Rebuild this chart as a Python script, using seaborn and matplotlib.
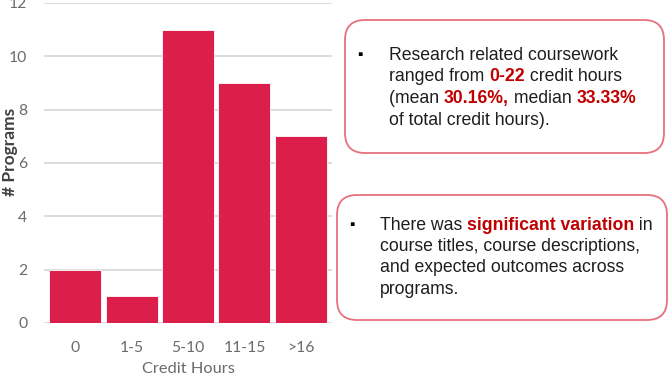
import pandas as pd
import seaborn as sns
import matplotlib.pyplot as plt
from matplotlib.patches import FancyBboxPatch

categories = ["0", "1-5", "5-10", "11-15", ">16"]
programs = [2, 1, 11, 9, 7]
y_ticks = [0, 2, 4, 6, 8, 10, 12]

BAR = "#DC1E4B"
HILITE = "#C00000"
EDGE = "#E8707E"

box1_lines = [
    [("Research related coursework", False)],
    [("ranged from ", False), ("0-22", True), (" credit hours", False)],
    [("(mean ", False), ("30.16%,", True), (" median ", False), ("33.33%", True)],
    [("of total credit hours).", False)],
]
box2_lines = [
    [("There was ", False), ("significant variation", True), (" in", False)],
    [("course titles, course descriptions,", False)],
    [("and expected outcomes across", False)],
    [("programs.", False)],
]

df = pd.DataFrame({"Credit Hours": categories, "Programs": programs})

sns.set_theme(style="white")
plt.rcParams["font.family"] = ["Lato", "DejaVu Sans"]

W, H = 669, 376
fig = plt.figure(figsize=(W / 100, H / 100), dpi=100)
ax = fig.add_axes([44 / W, (H - 323) / H, 288 / W, 320 / H])

sns.barplot(data=df, x="Credit Hours", y="Programs", color=BAR, width=0.92,
            saturation=1, edgecolor="white", linewidth=0.6, ax=ax, zorder=3)
ax.set_ylim(0, 12)
ax.set_xlim(-0.55, 4.55)
ax.set_yticks(y_ticks)
ax.yaxis.grid(True, color="#D9D9D9", linewidth=1.3, zorder=0)
ax.set_axisbelow(True)
for s in ax.spines.values():
    s.set_visible(False)
ax.tick_params(axis="both", length=0, labelsize=11.3, labelcolor="#6b6b6b")
ax.tick_params(axis="x", pad=13)
ax.tick_params(axis="y", pad=12)
ax.set_ylabel("# Programs", fontsize=12.5, fontweight="bold", color="#404040")
ax.yaxis.set_label_coords(-0.09, 0.535)
ax.set_xlabel("Credit Hours", fontsize=11.8, color="#6b6b6b", labelpad=5)

# text boxes, drawn in inch coordinates (1 px = 0.01 in)
tr = fig.dpi_scale_trans


def px(x, y):
    return x / 100, (H - y) / 100


def add_box(x0, y0, x1, y1):
    xa, ya = px(x0, y1)
    box = FancyBboxPatch((xa, ya), (x1 - x0) / 100, (y1 - y0) / 100,
                         boxstyle="round,pad=0,rounding_size=0.2",
                         transform=tr, facecolor="white", edgecolor=EDGE,
                         linewidth=1.3, clip_on=False)
    fig.add_artist(box)


def add_lines(lines, bx, tx, y_first, step):
    fs = 12.7
    fam = ["Liberation Sans", "DejaVu Sans"]
    fig.text(*px(bx, y_first), "\u25aa", transform=tr, fontsize=11,
             family=fam, color="black", va="center", ha="left")
    for i, line in enumerate(lines):
        y = y_first + i * step
        prev = None
        for txt, bold in line:
            kw = dict(fontsize=fs, family=fam,
                      color=HILITE if bold else "#1e1e1e",
                      fontweight="bold" if bold else "normal")
            if prev is None:
                prev = fig.text(*px(tx, y), txt, transform=tr,
                                va="center", ha="left", **kw)
            else:
                prev = fig.add_artist(plt.Annotation(
                    txt, xy=(1, 0), xycoords=prev, va="bottom", ha="left", **kw))


add_box(345, 20, 664, 153)
add_lines(box1_lines, 357, 389, 55, 21.8)
add_box(337, 195, 667, 320)
add_lines(box2_lines, 349, 380, 225, 21.5)

fig.savefig("out.png", dpi=100)
